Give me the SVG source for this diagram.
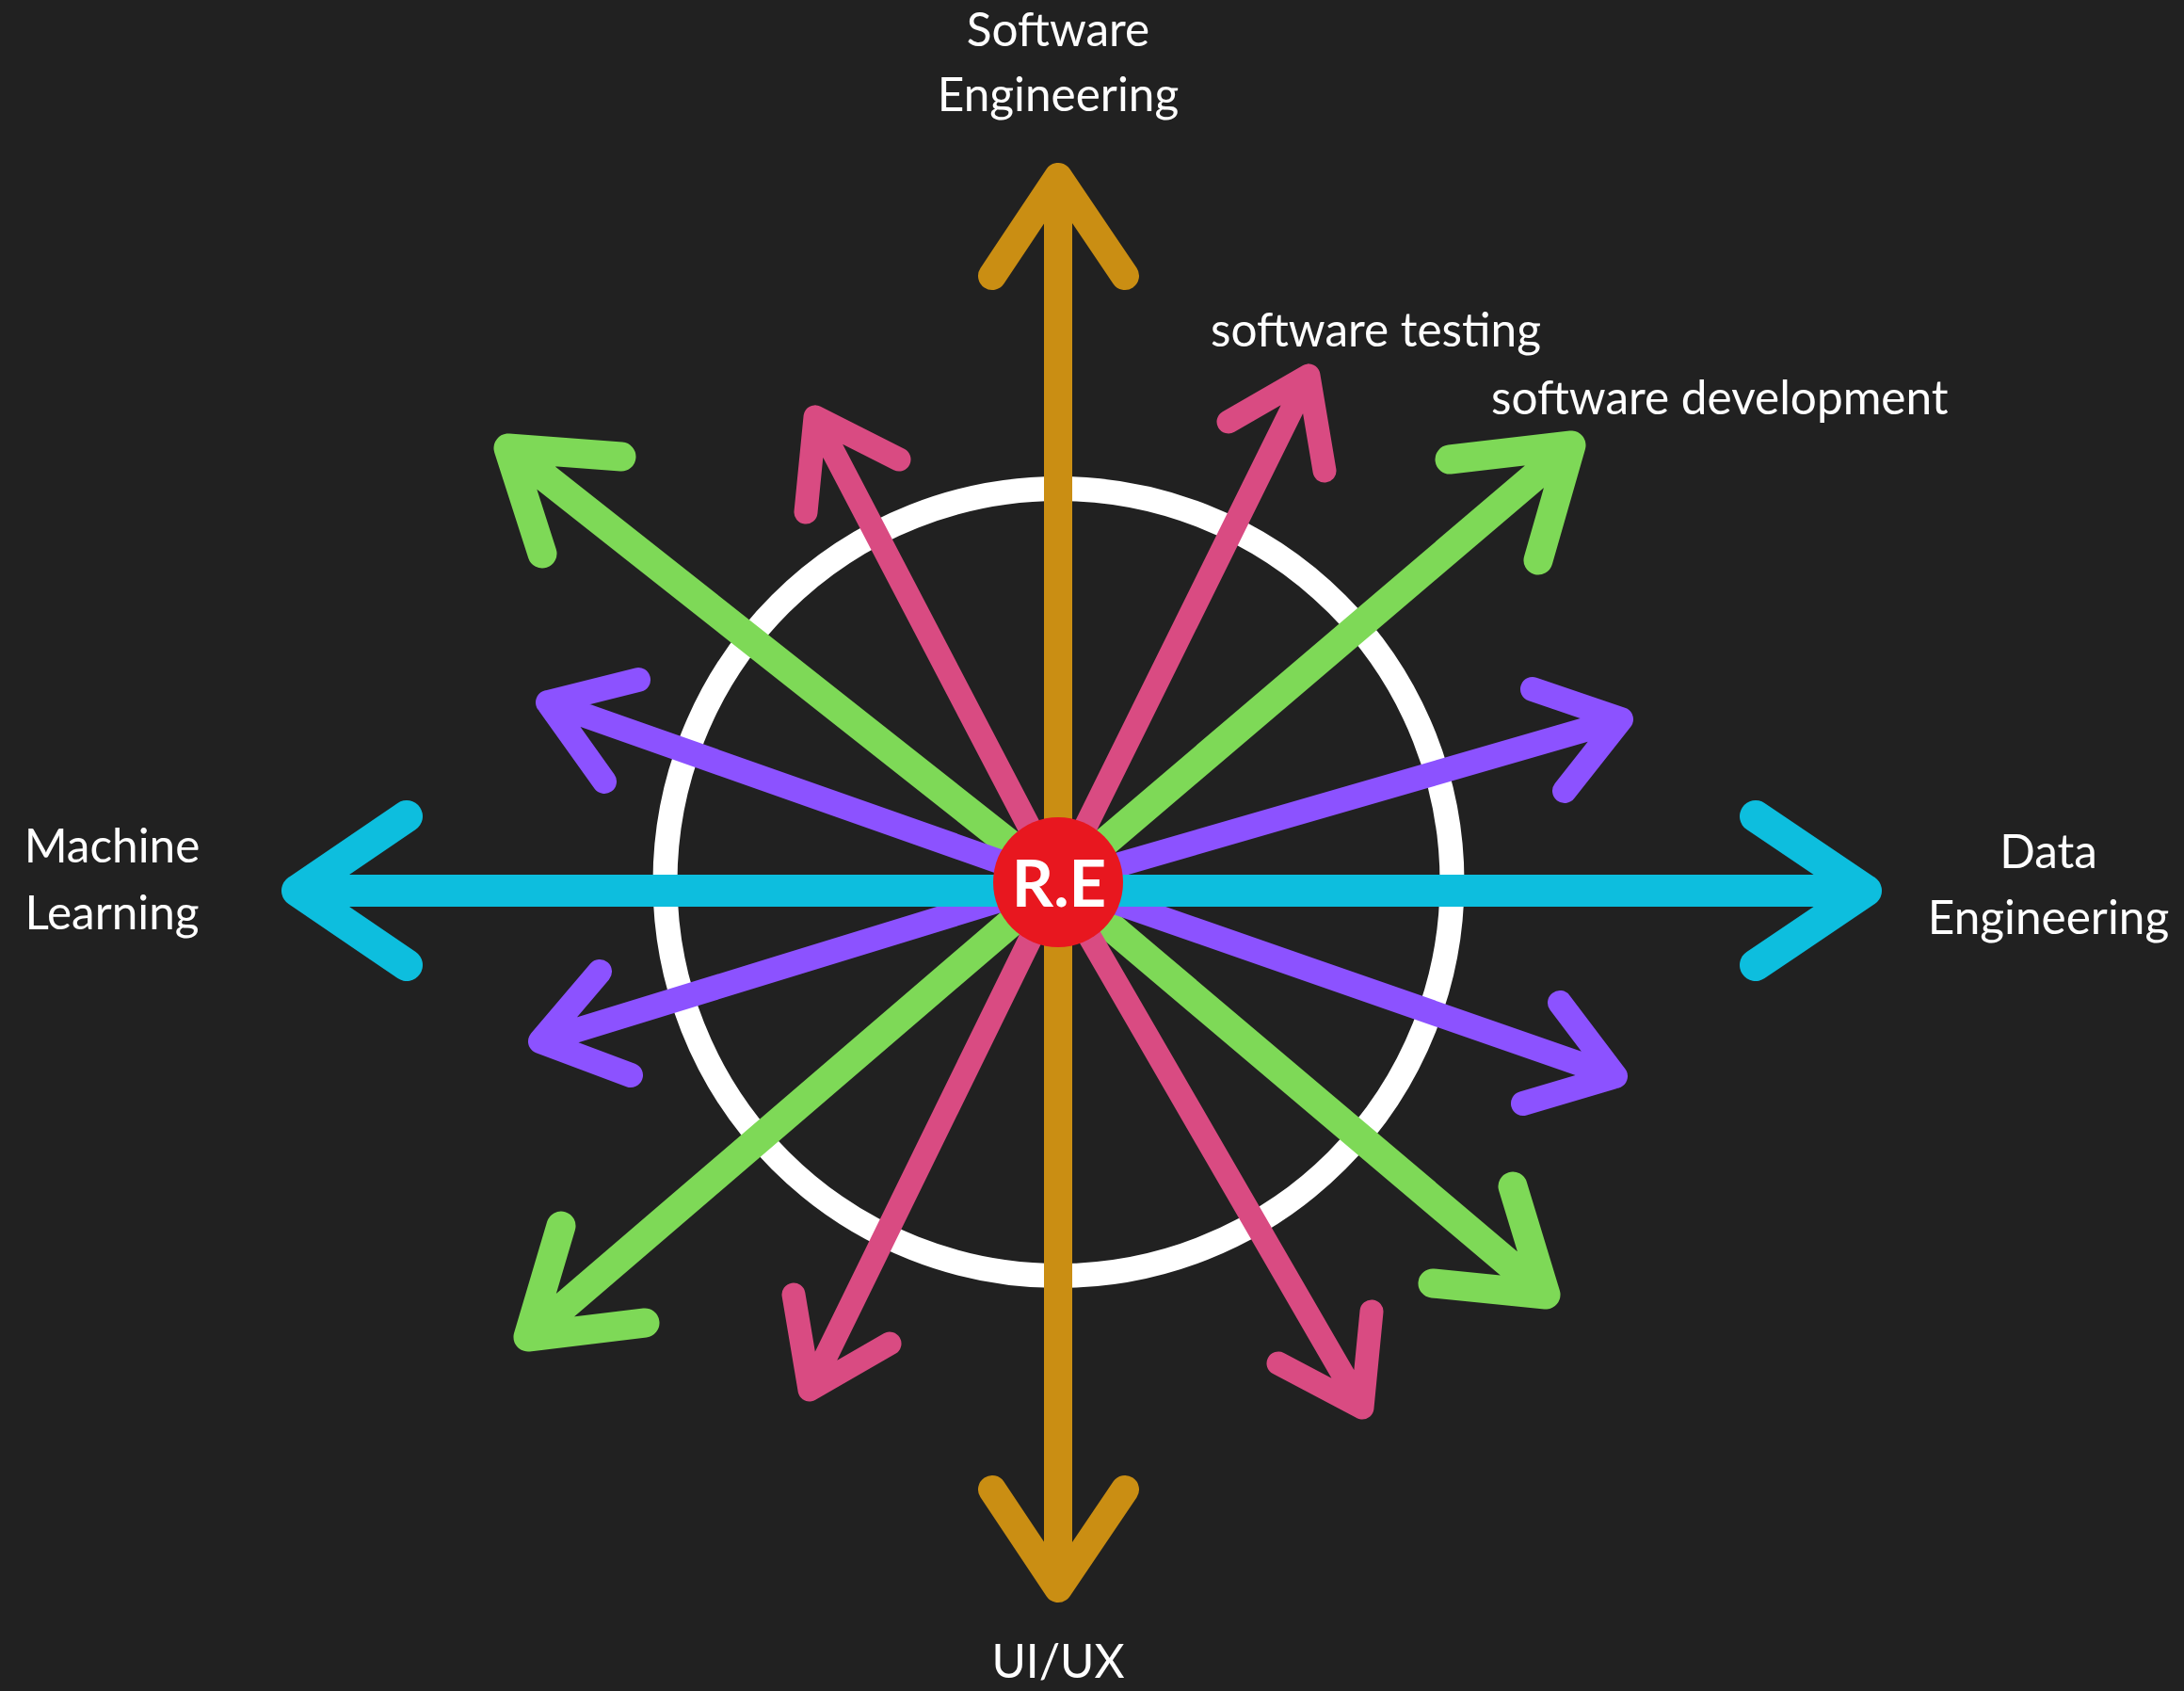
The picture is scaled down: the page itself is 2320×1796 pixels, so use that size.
<svg xmlns="http://www.w3.org/2000/svg" width="2320" height="1796" viewBox="0 0 2320 1796">
<style>
.a{fill:none;stroke-linecap:round;stroke-linejoin:round}
.y{stroke:#CA8E13;stroke-width:30}
.c{stroke:#0DBEDE;stroke-width:34}
.g{stroke:#7ED957;stroke-width:31}
.p{stroke:#D94B82;stroke-width:25}
.v{stroke:#8C52FF;stroke-width:26}
.lbl{font-family:Lato,"Open Sans","Liberation Sans",sans-serif;font-size:49.5px;font-weight:400;fill:#FFFFFF}
.mid{text-anchor:middle}
</style>
<rect width="2320" height="1796" fill="#212121"/>
<g id="ring">
<circle cx="1124.5" cy="937" r="418" fill="none" stroke="#FFFFFF" stroke-width="26"/>
</g>
<g id="connectors">
<path id="green-ul" class="a g" d="M1124,937 L540,476 M660,485 L540,476 L576,588"/>
<path id="green-ur" class="a g" d="M1124,937 L1669,473 M1540,488 L1669,473 L1634,595"/>
<path id="green-ll" class="a g" d="M1124,937 L561,1420 M596,1302 L561,1420 L685,1405"/>
<path id="green-lr" class="a g" d="M1124,937 L1642,1375 M1607,1260 L1642,1375 L1522,1363"/>
<path id="pink-ul" class="a p" d="M1124,937 L866,443 M955,488 L866,443 L856,544"/>
<path id="pink-ur" class="a p" d="M1124,937 L1390,399 M1305,448 L1390,399 L1407,500"/>
<path id="pink-ll" class="a p" d="M1124,937 L860,1476 M843,1375 L860,1476 L945,1427"/>
<path id="pink-lr" class="a p" d="M1124,937 L1447,1495 M1457,1393 L1447,1495 L1358,1448"/>
<path id="purple-ul" class="a v" d="M1124,937 L582,746 M678,722 L582,746 L642,830"/>
<path id="purple-ur" class="a v" d="M1124,937 L1722,764 M1628,732 L1722,764 L1662,840"/>
<path id="purple-ll" class="a v" d="M1124,937 L574,1106 M637,1032 L574,1106 L670,1142"/>
<path id="purple-lr" class="a v" d="M1124,937 L1716,1143 M1657,1065 L1716,1143 L1618,1172"/>
<path id="cyan" class="a c" d="M316,946 L1982,946 M432,867 L316,946 L432,1025 M1865,867 L1982,946 L1865,1025"/>
<path id="yellow" class="a y" d="M1124,188 L1124,1687 M1054,293 L1124,188 L1195,293 M1054,1582 L1124,1687 L1195,1582"/>
</g>
<g id="node-re">
<circle cx="1124" cy="937" r="69" fill="#E8171F"/>
<text x="1125" y="963" text-anchor="middle" font-family="Lato,'Open Sans','Liberation Sans',sans-serif" font-weight="bold" font-size="69" fill="#FFFFFF">R.E</text>
</g>
<g id="label-software-engineering">
<text class="lbl mid" x="1124" y="49">Software</text>
<text class="lbl mid" x="1124" y="118">Engineering</text>
</g>
<g id="label-machine-learning">
<text class="lbl mid" x="119" y="916">Machine</text>
<text class="lbl mid" x="119" y="987">Learning</text>
</g>
<g id="label-data-engineering">
<text class="lbl mid" x="2176" y="922">Data</text>
<text class="lbl mid" x="2176" y="992">Engineering</text>
</g>
<g id="label-software-testing">
<text class="lbl" x="1286" y="368">software testing</text>
</g>
<g id="label-software-development">
<text class="lbl" x="1584" y="440">software development</text>
</g>
<g id="label-uiux">
<text class="lbl mid" x="1124" y="1782">UI/UX</text>
</g>
</svg>
